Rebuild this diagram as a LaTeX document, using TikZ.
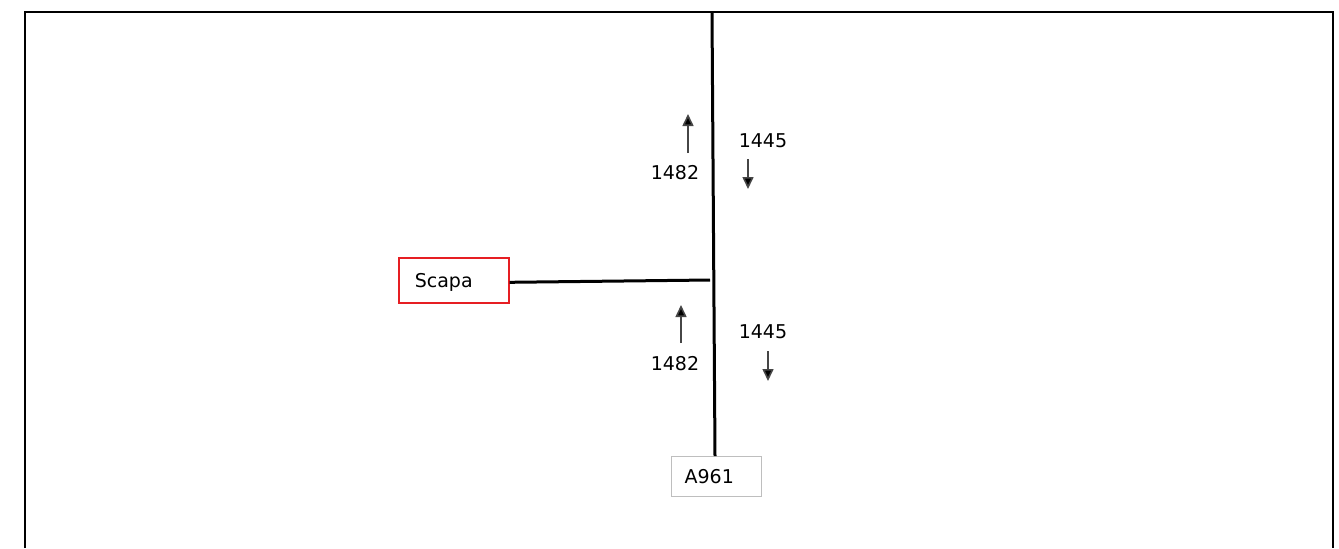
\documentclass[tikz,border=0pt]{standalone}
\usepackage{fontspec}
\setmainfont{DejaVu Sans}
\usepackage{xcolor}
\definecolor{boxred}{RGB}{230, 30, 35}
\definecolor{boxgray}{RGB}{190, 190, 190}
\definecolor{flowgray}{RGB}{70, 70, 70}
\usetikzlibrary{calc,positioning,arrows.meta}

\begin{document}
\begin{tikzpicture}[x=0.5pt, y=-0.5pt,
    roadline/.style={line width=1.5pt, black},
    flowarrow/.style={-{Triangle[length=6pt,width=5.5pt,fill=black]}, line width=0.8pt, flowgray},
    countlabel/.style={font=\fontsize{9.5}{11}\selectfont, inner sep=0pt},
    placebox/.style={draw, rectangle, font=\fontsize{9.5}{11}\selectfont, text depth=0pt, align=left, anchor=north west}]
    \useasboundingbox (0, 0) rectangle (1339, 548);

    % Frame
    \draw[line width=1pt] (25, 548) -- (25, 12) -- (1333, 12) -- (1333, 548);

    % Place boxes
    \node[placebox, boxred, line width=0.8pt, text=black, minimum width=55pt, minimum height=22.5pt, text width=39pt, inner xsep=7.5pt] (scapa) at (398, 257) {Scapa};
    \node[placebox, boxgray, line width=0.6pt, text=black, minimum width=45pt, minimum height=20pt, text width=32pt, inner xsep=6.5pt] (a961) at (671, 456) {A961};

    % Roads
    \coordinate (roadtop) at (712, 12);
    \coordinate (junction) at (710, 280);
    \draw[roadline] (roadtop) -- (a961.north -| 715, 0);
    \draw[roadline] ([yshift=-1pt]scapa.east) -- (junction);

    % Traffic counts, north section
    \coordinate (upA0) at (688, 153);
    \coordinate (upA1) at (688, 114);
    \coordinate (downA0) at (748, 159);
    \coordinate (downA1) at (748, 189);
    \draw[flowarrow] (upA0) -- (upA1);
    \draw[flowarrow] (downA0) -- (downA1);
    \node[countlabel] (northup) at (675, 173) {1482};
    \node[countlabel] (northdown) at (763, 141) {1445};

    % Traffic counts, south section
    \coordinate (upB0) at (681, 343);
    \coordinate (upB1) at (681, 305);
    \coordinate (downB0) at (768, 351);
    \coordinate (downB1) at (768, 381);
    \draw[flowarrow] (upB0) -- (upB1);
    \draw[flowarrow] (downB0) -- (downB1);
    \node[countlabel] (southup) at (675, 364) {1482};
    \node[countlabel] (southdown) at (763, 332) {1445};
\end{tikzpicture}
\end{document}
